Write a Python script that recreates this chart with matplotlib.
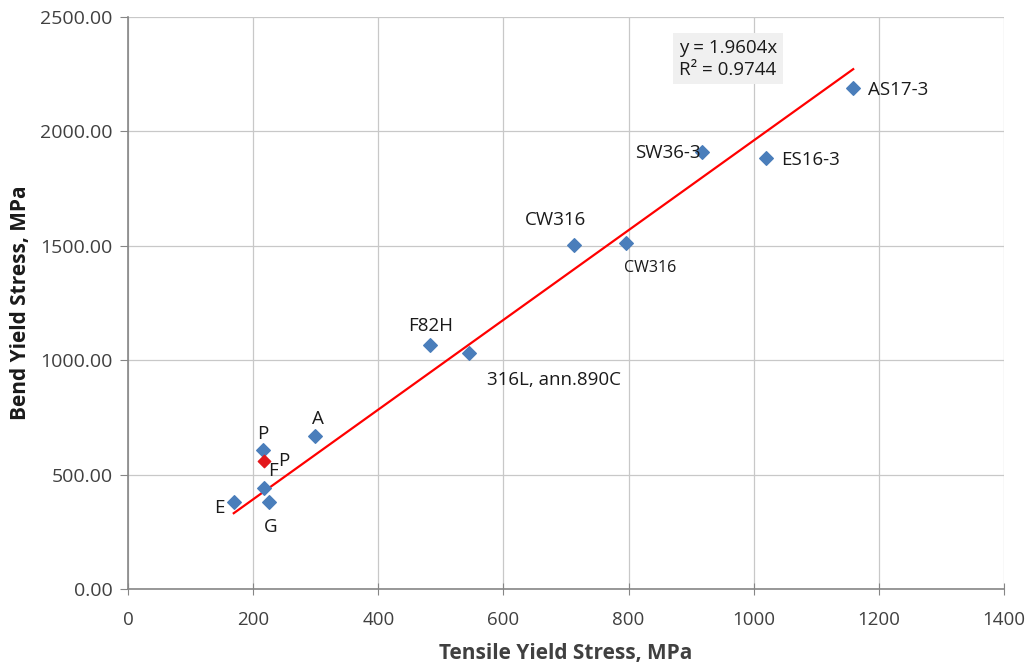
import matplotlib.pyplot as plt
import numpy as np

plt.rcParams['font.family'] = ['Open Sans', 'DejaVu Sans']

# tensile vs bend yield stress, MPa
names = ['AS17-3', 'ES16-3', 'SW36-3', 'CW316', 'CW316', 'F82H',
         '316L, ann.890C', 'A', 'P', 'F', 'E', 'G']
tensile = [1159, 1020, 917, 713, 796, 483, 545, 299, 216, 217, 169, 225]
bend = [2190, 1884, 1910, 1503, 1512, 1066, 1031, 669, 607, 441, 380, 380]

# separate highlighted point
red_name = 'P'
red_tensile = 217
red_bend = 559

slope = 1.9604
r2 = 0.9744

# label offsets in pixels (dx, dy, ha, va, size)
label_pos = [
    (15, -2, 'left', 'center', 13.5),
    (15, -2, 'left', 'center', 13.5),
    (-1, -1, 'right', 'center', 13.5),
    (-19, 25, 'center', 'center', 13.5),
    (24, -25, 'center', 'center', 11.5),
    (0, 19, 'center', 'center', 13.5),
    (18, -27, 'left', 'center', 13.5),
    (3, 17, 'center', 'center', 13.5),
    (0, 16, 'center', 'center', 13.5),
    (9, 17, 'center', 'center', 13.5),
    (-9, -6, 'right', 'center', 13.5),
    (2, -25, 'center', 'center', 13.5),
]

fig = plt.figure(figsize=(10.25, 6.65), dpi=100)
ax = fig.add_axes([0.1249, 0.1143, 0.8546, 0.8601])

ax.scatter(tensile, bend, marker='D', s=48, color='#4a7ebb', zorder=3)
ax.scatter([red_tensile], [red_bend], marker='D', s=40, color='#e3171b', zorder=4)

for n, x, y, (dx, dy, ha, va, fs) in zip(names, tensile, bend, label_pos):
    ax.annotate(n, (x, y), xytext=(dx, dy), textcoords='offset pixels',
                ha=ha, va=va, fontsize=fs, color='#1a1a1a')
ax.annotate(red_name, (red_tensile, red_bend), xytext=(14, 0),
            textcoords='offset pixels', ha='left', va='center',
            fontsize=13.5, color='#1a1a1a')

# linear trend through origin
all_x = tensile + [red_tensile]
xs = np.array([min(all_x), max(all_x)])
ax.plot(xs, slope * xs, color='#ff0000', linewidth=1.6, zorder=2)

ax.text(880, 2318, 'y = %.4fx\nR² = %.4f' % (slope, r2), fontsize=13.5,
        color='#1a1a1a', ha='left', va='center', linespacing=1.3,
        bbox=dict(boxstyle='square,pad=0.3', fc='#f0f0f0', ec='none'))

ax.set_xlim(0, 1400)
ax.set_ylim(0, 2500)
ax.set_xticks(np.arange(0, 1401, 200))
ax.set_yticks(np.arange(0, 2501, 500))
ax.set_yticklabels(['%.2f' % v for v in np.arange(0, 2501, 500)])
ax.grid(True, color='#c8c8c8', linewidth=0.9)
ax.set_axisbelow(True)

for s in ['top', 'right']:
    ax.spines[s].set_visible(False)
for s in ['left', 'bottom']:
    ax.spines[s].set_color('#868686')
    ax.spines[s].set_linewidth(1.2)

ax.tick_params(axis='x', direction='inout', length=8, color='#868686',
               labelsize=13.5, labelcolor='#404040', pad=12)
ax.tick_params(axis='y', direction='out', length=6, color='#868686',
               labelsize=14, labelcolor='#404040', pad=5)

ax.set_xlabel('Tensile Yield Stress, MPa', fontsize=15, fontweight='bold',
              color='#404040', labelpad=10)
ax.set_ylabel('Bend Yield Stress, MPa', fontsize=15, fontweight='bold',
              color='#1a1a1a', labelpad=7)

fig.savefig('out.png', dpi=100)
